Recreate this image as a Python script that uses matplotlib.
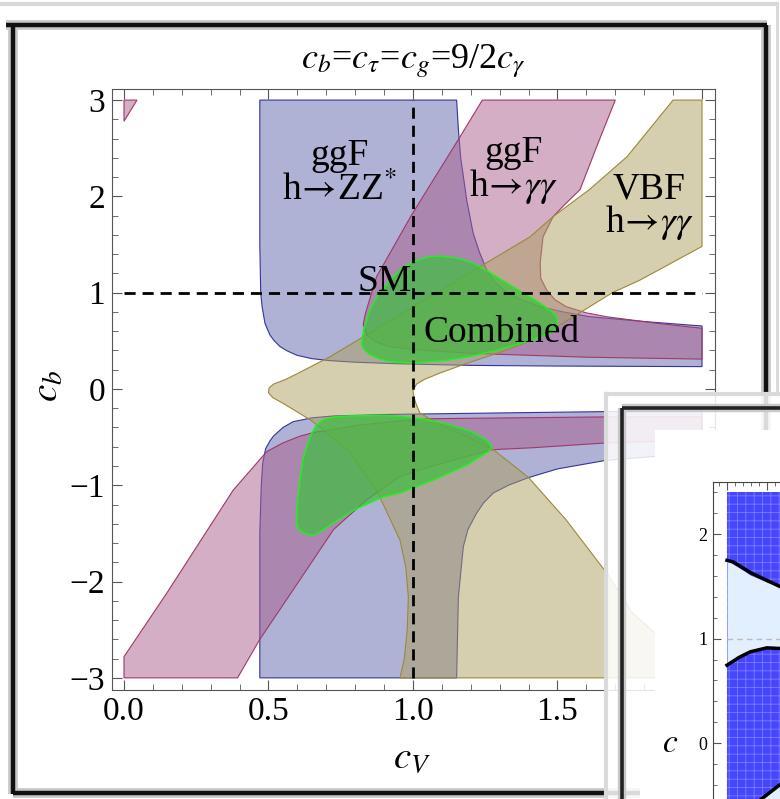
import matplotlib
matplotlib.use("Agg")
import matplotlib.pyplot as plt
from matplotlib.colors import to_rgba
from matplotlib.ticker import MultipleLocator, FormatStrFormatter

plt.rcParams['font.family'] = ['Liberation Serif', 'DejaVu Serif']
plt.rcParams['mathtext.fontset'] = 'stix'
plt.rcParams['hatch.linewidth'] = 0.6

# region outlines (c_V, c_b)
zz_up_x = [0.47, 0.47, 0.473, 0.478, 0.488, 0.505, 0.52, 0.54, 0.565, 0.598, 0.65, 0.713, 0.8, 0.944,
           1.2, 1.5, 2.0,
           2.0, 1.8, 1.613, 1.52, 1.44, 1.38, 1.324, 1.28, 1.255, 1.23, 1.208, 1.186, 1.165, 1.157, 1.151]
zz_up_y = [3.0, 1.5, 1.0, 0.85, 0.68, 0.56, 0.50, 0.44, 0.395, 0.35, 0.315, 0.294, 0.278, 0.262,
           0.245, 0.238, 0.232,
           0.654, 0.70, 0.75, 0.80, 0.855, 0.92, 1.0, 1.12, 1.236, 1.42, 1.62, 1.96, 2.4, 2.7, 3.0]
zz_lo_x = [0.47, 0.47, 0.475, 0.48, 0.49, 0.505, 0.517, 0.55, 0.585, 0.65, 0.725, 0.9, 1.024, 1.4, 1.67, 2.0,
           2.0, 1.84, 1.67, 1.5, 1.40, 1.33, 1.278, 1.245, 1.22, 1.19, 1.174, 1.157, 1.151]
zz_lo_y = [-3.0, -1.5, -1.0, -0.77, -0.62, -0.54, -0.49, -0.40, -0.34, -0.30, -0.28, -0.265, -0.26, -0.245, -0.235, -0.23,
           -0.66, -0.70, -0.74, -0.83, -0.92, -1.0, -1.08, -1.18, -1.29, -1.46, -1.64, -2.16, -3.0]

gg_up_x = [1.24, 1.70, 1.64, 1.578, 1.52, 1.485, 1.45, 1.44, 1.442, 1.462, 1.49, 1.53, 1.6, 1.67, 1.85, 2.0,
           2.0, 1.6, 1.2, 1.0, 0.92, 0.87, 0.84, 0.828, 0.835, 0.85, 0.874, 0.995, 1.163]
gg_up_y = [3.0, 3.0, 2.55, 2.07, 1.9, 1.79, 1.58, 1.31, 1.15, 1.03, 0.93, 0.855, 0.79, 0.75, 0.68, 0.63,
           0.31, 0.33, 0.37, 0.41, 0.44, 0.49, 0.56, 0.67, 0.78, 0.93, 1.166, 1.806, 2.62]
gg_tri_x = [0.0, 0.045, 0.0]
gg_tri_y = [3.0, 3.0, 2.78]
gg_lo_x = [0.0, 0.393, 0.47, 0.609, 0.725, 0.84, 0.955, 1.024, 1.15, 1.278, 1.416, 1.67, 2.0,
           2.0, 1.67, 1.024, 0.8, 0.725, 0.66, 0.609, 0.55, 0.494, 0.378, 0.148, 0.0]
gg_lo_y = [-3.0, -3.0, -2.6, -1.98, -1.46, -1.15, -0.91, -0.84, -0.73, -0.63, -0.61, -0.56, -0.53,
           -0.29, -0.29, -0.31, -0.38, -0.42, -0.45, -0.49, -0.56, -0.65, -1.05, -2.12, -2.78]

vbf_x = [1.90, 2.0, 2.0, 1.785, 1.69, 1.555, 1.44, 1.3, 1.18, 1.093, 1.04, 1.012, 1.0, 1.003, 1.01, 1.024,
         1.10, 1.19, 1.278, 1.40, 1.53, 1.67, 1.76, 1.84, 1.93, 1.96,
         0.955, 0.97, 0.98, 0.984, 0.975, 0.955, 0.874, 0.78, 0.68, 0.644, 0.551, 0.515, 0.50,
         0.502, 0.517, 0.56, 0.6, 0.713, 0.944, 1.174, 1.405, 1.485, 1.61, 1.74]
vbf_y = [3.0, 3.0, 1.48, 1.13, 1.0, 0.75, 0.54, 0.38, 0.26, 0.165, 0.10, 0.05, -0.02, -0.08, -0.15, -0.25,
         -0.38, -0.50, -0.63, -0.92, -1.36, -1.91, -2.33, -2.54, -2.85, -3.0,
         -3.0, -2.8, -2.5, -2.16, -1.85, -1.57, -1.05, -0.65, -0.40, -0.32, -0.15, -0.09, -0.04,
         0.01, 0.05, 0.10, 0.16, 0.335, 0.75, 1.166, 1.58, 1.79, 2.07, 2.41]

comb_up_x = [0.822, 0.83, 0.851, 0.88, 0.92, 0.96, 1.0, 1.05, 1.093, 1.15, 1.208, 1.27, 1.324, 1.39,
             1.44, 1.48, 1.497, 1.50, 1.49, 1.474, 1.43, 1.38, 1.30, 1.208, 1.12, 1.0, 0.93, 0.886, 0.85, 0.828]
comb_up_y = [0.47, 0.62, 0.82, 0.98, 1.13, 1.25, 1.32, 1.37, 1.38, 1.36, 1.31, 1.2, 1.10, 0.98,
             0.89, 0.80, 0.75, 0.68, 0.62, 0.58, 0.53, 0.48, 0.41, 0.345, 0.30, 0.27, 0.28, 0.31, 0.36, 0.42]
comb_lo_x = [0.598, 0.60, 0.609, 0.62, 0.644, 0.665, 0.689, 0.73, 0.782, 0.9, 0.955, 1.03, 1.128, 1.2,
             1.255, 1.272, 1.265, 1.186, 1.07, 0.955, 0.896, 0.80, 0.725, 0.68, 0.654, 0.625, 0.605]
comb_lo_y = [-1.40, -1.20, -0.945, -0.72, -0.495, -0.38, -0.32, -0.29, -0.28, -0.275, -0.285, -0.31, -0.37, -0.44,
             -0.53, -0.60, -0.64, -0.79, -0.945, -1.08, -1.12, -1.25, -1.39, -1.48, -1.52, -1.50, -1.46]

# inset panel (c vs. unknown axis), partially visible
in_up_x = [0.0, 0.075, 0.3, 0.66, 1.2]
in_up_y = [1.75, 1.735, 1.63, 1.50, 1.35]
in_lo_x = [0.0, 0.15, 0.29, 0.5, 0.66, 1.2]
in_lo_y = [0.746, 0.82, 0.874, 0.912, 0.906, 0.85]
in_bot_x = [0.43, 0.66, 1.2]
in_bot_y = [-0.536, -0.40, -0.15]

W, H = 780, 799


def fx(px):
    return px / W


def fy(py):
    return 1 - py / H


fig = plt.figure(figsize=(7.8, 7.99), dpi=100)

# screenshot frame behind the plot
deco = fig.add_axes([0, 0, 1, 1], zorder=0)
deco.set_xlim(0, W)
deco.set_ylim(H, 0)
deco.axis('off')
deco.plot([0, 777], [4, 4], color='#d8d8d8', lw=3)
deco.plot([777, 777], [4, 394], color='#d8d8d8', lw=2)
for lw, c in [(7, '#c8c8c8'), (3.2, '#111111')]:
    deco.plot([6, 767], [25, 25], color=c, lw=lw, solid_capstyle='butt')
    deco.plot([13, 13], [25, 794], color=c, lw=lw, solid_capstyle='butt')
    deco.plot([13, 640], [793, 793], color=c, lw=lw, solid_capstyle='butt')
    deco.plot([766, 766], [25, 440], color=c, lw=lw, solid_capstyle='butt')

ax = fig.add_axes([fx(112), fy(690), (715 - 112) / W, (690 - 89) / H], zorder=1)

blue, pink, tan, green = '#6165ad', '#a95f8d', '#ad9f61', '#3cbf3c'
for xs, ys in [(zz_up_x, zz_up_y), (zz_lo_x, zz_lo_y)]:
    ax.fill(xs, ys, facecolor=to_rgba(blue, 0.5), edgecolor='#3434a0', lw=0.8)
for xs, ys in [(gg_up_x, gg_up_y), (gg_tri_x, gg_tri_y), (gg_lo_x, gg_lo_y)]:
    ax.fill(xs, ys, facecolor=to_rgba(pink, 0.5), edgecolor='#a03868', lw=0.8)
ax.fill(vbf_x, vbf_y, facecolor=to_rgba(tan, 0.5), edgecolor='#9a8a38', lw=0.8)
for xs, ys in [(comb_up_x, comb_up_y), (comb_lo_x, comb_lo_y)]:
    ax.fill(xs, ys, facecolor=to_rgba(green, 0.7), edgecolor='#22ee22', lw=1.1)

ax.plot([1, 1], [-3, 3], color='black', lw=2, dashes=(4, 2.5))
ax.plot([0, 2], [1, 1], color='black', lw=2, dashes=(4, 2.5))

lab = dict(fontsize=27, va='baseline')
ax.text(0.747, 2.33, 'ggF', ha='center', **lab)
ax.text(0.747, 1.96, r'h$\!\rightarrow\!$ZZ$^{*}$', ha='center', **lab)
ax.text(1.347, 2.36, 'ggF', ha='center', **lab)
ax.text(1.347, 2.0, r'h$\!\rightarrow\!\gamma\gamma$', ha='center', **lab)
ax.text(1.817, 1.98, 'VBF', ha='center', **lab)
ax.text(1.817, 1.63, r'h$\!\rightarrow\!\gamma\gamma$', ha='center', **lab)
ax.text(0.995, 1.02, 'SM', ha='right', **lab)
ax.text(1.036, 0.49, 'Combined', ha='left', **lab)

ax.set_xlim(-0.0415, 2.045)
ax.set_ylim(-3.126, 3.115)
ax.set_xticks([0, 0.5, 1, 1.5, 2])
ax.xaxis.set_major_formatter(FormatStrFormatter('%.1f'))
ax.set_yticks([-3, -2, -1, 0, 1, 2, 3])
ax.xaxis.set_minor_locator(MultipleLocator(0.1))
ax.yaxis.set_minor_locator(MultipleLocator(0.2))
ax.tick_params(which='both', direction='in', top=True, right=True, color='#555555',
               labelsize=24, pad=5)
ax.tick_params(which='major', length=7)
ax.tick_params(which='minor', length=4)
for s in ax.spines.values():
    s.set_color('#555555')

fig.text(fx(413.5), fy(68), r'$c_b$=$c_\tau$=$c_g$=9/2$c_\gamma$', ha='center', va='baseline', fontsize=26)
fig.text(fx(412), fy(768), r'$c_V$', ha='center', va='baseline', fontsize=28)
fig.text(fx(48), fy(386), r'$c_b$', ha='center', va='center', rotation=90, fontsize=28)

# second window overlapping the lower right corner
ov = fig.add_axes([0, 0, 1, 1], zorder=2)
ov.set_xlim(0, W)
ov.set_ylim(H, 0)
ov.axis('off')
ov.fill([606, 780, 780, 606], [394, 394, 799, 799], color='white', alpha=0.85, lw=0)
ov.fill([655, 780, 780, 655], [430, 430, 799, 799], color='white', lw=0)
ov.plot([606, 606], [394, 799], color='#dadada', lw=3)
ov.plot([606, 780], [394, 394], color='#dadada', lw=3)
for lw, c in [(6, '#c8c8c8'), (2.6, '#222222')]:
    ov.plot([621.5, 621.5], [408, 799], color=c, lw=lw, solid_capstyle='butt')
    ov.plot([621.5, 780], [408, 408], color=c, lw=lw, solid_capstyle='butt')

ins = fig.add_axes([fx(713), fy(1000), (1030 - 713) / W, (1000 - 482) / H], zorder=3)
ins.fill_between([0, 4], -3, 2.40, facecolor='#4646ff', edgecolor='#7c7cff', hatch='++', lw=0)
ins.fill_between(in_lo_x, in_lo_y, [1.75, 1.68, 1.61, 1.54, 1.50, 1.35], color='#e2efff', lw=0)
ins.fill_between(in_bot_x, -3, in_bot_y, color='#e2efff', lw=0)
ins.plot([0, 4], [1, 1], color='#bbbbbb', lw=1, dashes=(4, 3))
ins.plot(in_up_x, in_up_y, color='black', lw=2.5)
ins.plot(in_lo_x, in_lo_y, color='black', lw=2.5)
ins.plot(in_bot_x, in_bot_y, color='black', lw=2.5)
ins.set_xlim(-0.175, 3.79)
ins.set_ylim(-2.46, 2.50)
ins.set_yticks([0, 1, 2])
ins.set_xticks([0, 0.5, 1, 1.5, 2, 2.5, 3, 3.5])
ins.xaxis.set_minor_locator(MultipleLocator(0.1))
ins.yaxis.set_minor_locator(MultipleLocator(0.2))
ins.tick_params(which='both', direction='in', top=True, bottom=False, labelbottom=False,
                color='#555555', labelsize=13, pad=4)
ins.tick_params(which='major', length=6)
ins.tick_params(which='minor', length=3)
for s in ins.spines.values():
    s.set_color('#444444')
fig.text(fx(670), fy(752), r'$c$', ha='center', va='baseline', fontsize=24, zorder=4)

fig.savefig('out.png', dpi=100)
